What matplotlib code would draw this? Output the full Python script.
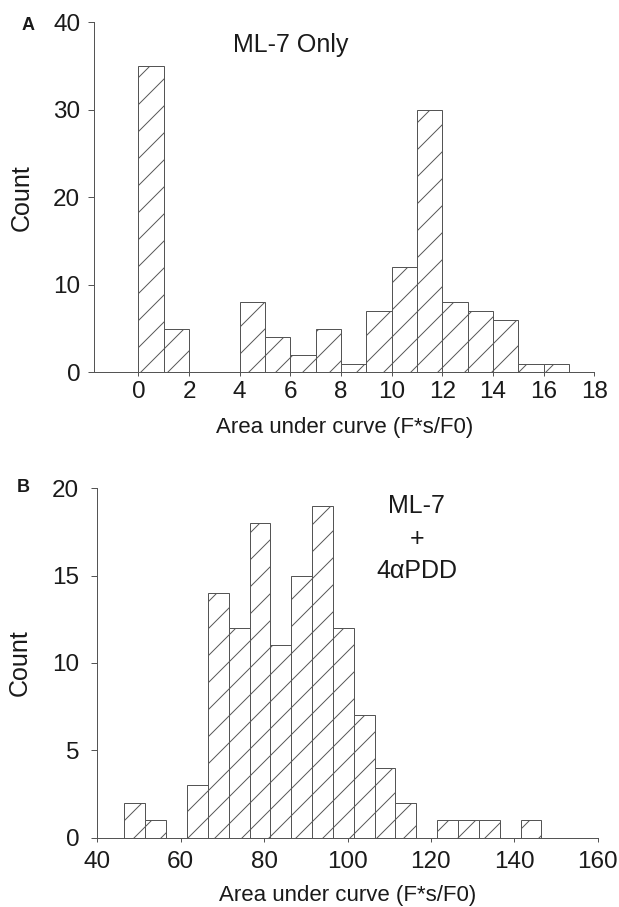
import matplotlib
matplotlib.use("Agg")
import matplotlib.pyplot as plt
import numpy as np

DPI = 81
S = 100 / DPI   # converts "points at 100 dpi" to points at this dpi

plt.rcParams['font.family'] = ['Liberation Sans', 'DejaVu Sans']
plt.rcParams['hatch.linewidth'] = 0.7 * S
plt.rcParams['hatch.color'] = '#3a3a3a'

# Panel A data
a_edges = [0, 1, 2, 3, 4, 5, 6, 7, 8, 9, 10, 11, 12, 13, 14, 15, 16]
a_counts = [35, 5, 0, 0, 8, 4, 2, 5, 1, 7, 12, 30, 8, 7, 6, 1, 1]
a_xticks = [0, 2, 4, 6, 8, 10, 12, 14, 16, 18]
a_yticks = [0, 10, 20, 30, 40]

# Panel B data
b_edges = [46.5, 51.5, 56.5, 61.5, 66.5, 71.5, 76.5, 81.5, 86.5, 91.5, 96.5,
           101.5, 106.5, 111.5, 116.5, 121.5, 126.5, 131.5, 136.5, 141.5]
b_counts = [2, 1, 0, 3, 14, 12, 18, 11, 15, 19, 12, 7, 4, 2, 0, 1, 1, 1, 0, 1]
b_xticks = [40, 60, 80, 100, 120, 140, 160]
b_yticks = [0, 5, 10, 15, 20]

W, H = 619, 907
fig = plt.figure(figsize=(W/DPI, H/DPI), dpi=DPI)

def ax_at(l, r, t, b):
    return fig.add_axes([l/W, 1 - b/H, (r-l)/W, (b-t)/H])

axA = ax_at(94.3, 594.3, 22.3, 372.3)
axB = ax_at(97.3, 597.7, 488.2, 837.7)

TICK = 17.5
LAB = 16
ANN = 18
TXT = '#1a1a1a'
LINE = '#555555'

def style(ax, xpad, ypad):
    for s in ['top', 'right']:
        ax.spines[s].set_visible(False)
    for s in ['left', 'bottom']:
        ax.spines[s].set_color(LINE)
        ax.spines[s].set_linewidth(1.0 * S * 0.72)
    ax.tick_params(direction='out', width=1.0 * S * 0.72, color=LINE,
                   labelsize=TICK * S, labelcolor=TXT)
    ax.tick_params(axis='x', length=4 * S * 0.72, pad=xpad * S * 0.72)
    ax.tick_params(axis='y', length=6 * S * 0.72, pad=ypad * S * 0.72)

def draw(ax, edges, counts, width):
    for e, c in zip(edges, counts):
        if c > 0:
            ax.bar(e, c, width=width, align='edge', facecolor='white',
                   edgecolor=LINE, linewidth=1.0 * S * 0.72, hatch='/')

def labels(ax, xl_y, yl_x):
    ax.set_xlabel('Area under curve (F*s/F0)', fontsize=LAB * S, color=TXT)
    ax.set_ylabel('Count', fontsize=18 * S, color=TXT)
    ax.xaxis.set_label_coords(0.5, xl_y)
    ax.xaxis.label.set_va('center')
    ax.yaxis.set_label_coords(yl_x, 0.5)
    ax.yaxis.label.set_va('center')
    ax.yaxis.label.set_ha('center')

# ---- Panel A
draw(axA, a_edges, a_counts, 1)
style(axA, 5, 8)
axA.set_xlim(-1.74, 18)
axA.set_ylim(0, 40)
axA.set_xticks(a_xticks)
axA.set_yticks(a_yticks)
labels(axA, -(427 - 372.3) / 350, -(94.3 - 22) / 500)
axA.text(6.0, 37.4, 'ML-7 Only', fontsize=ANN * S, ha='center', va='center', color=TXT)
fig.text(28/W, 1 - 25/H, 'A', fontsize=13 * S, fontweight='bold', ha='center',
         va='center', color=TXT)

# ---- Panel B
draw(axB, b_edges, b_counts, 5)
style(axB, 9, 12)
axB.set_xlim(40, 160)
axB.set_ylim(0, 20)
axB.set_xticks(b_xticks)
axB.set_yticks(b_yticks)
labels(axB, -(895 - 837.7) / 349.5, -(97.3 - 20) / 500.4)
axB.text(116.6, 17.12, 'ML-7\n+\n4\u03b1PDD', fontsize=ANN * S, ha='center', va='center',
         linespacing=1.45, color=TXT)
fig.text(23/W, 1 - 487/H, 'B', fontsize=13 * S, fontweight='bold', ha='center',
         va='center', color=TXT)

fig.savefig('out.png', dpi=DPI)
